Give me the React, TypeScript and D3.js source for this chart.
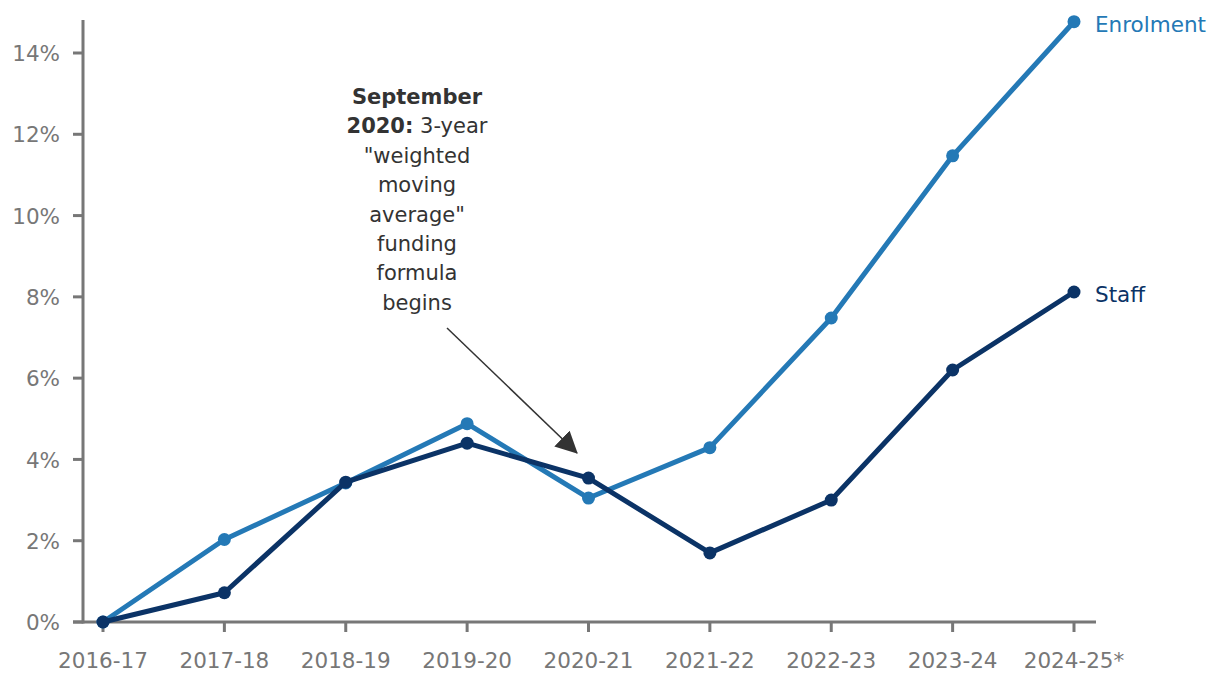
import React from "react";
import * as d3 from "d3";

const categories = ["2016-17", "2017-18", "2018-19", "2019-20", "2020-21", "2021-22", "2022-23", "2023-24", "2024-25*"];
const enrolment = [0, 2.03, 3.42, 4.88, 3.05, 4.29, 7.48, 11.47, 14.77];
const staff = [0, 0.72, 3.44, 4.4, 3.54, 1.7, 3.0, 6.2, 8.12];
const yTicks = [0, 2, 4, 6, 8, 10, 12, 14];
const annotationLines = [
  { bold: "September", rest: "" },
  { bold: "2020:", rest: " 3-year" },
  { bold: "", rest: "\"weighted" },
  { bold: "", rest: "moving" },
  { bold: "", rest: "average\"" },
  { bold: "", rest: "funding" },
  { bold: "", rest: "formula" },
  { bold: "", rest: "begins" },
];

const W = 1220;
const H = 682;
const FONT = "'DejaVu Sans', sans-serif";
const AXIS = "#777777";
const C_ENR = "#2479b6";
const C_STAFF = "#0b3366";

export default function App() {
  const x = d3.scalePoint<string>().domain(categories).range([103, 1074]);
  const y = d3.scaleLinear().domain([0, 14]).range([622, 53]);
  const line = d3
    .line<number>()
    .x((_, i) => x(categories[i])!)
    .y((d) => y(d));

  const series = [
    { name: "Enrolment", data: enrolment, color: C_ENR },
    { name: "Staff", data: staff, color: C_STAFF },
  ];

  const ax0 = 83;
  const axEnd = 1096;

  return (
    <svg width={W} height={H} style={{ position: "absolute", left: 0, top: 0, background: "#fff" }}>
      <defs>
        <marker id="arrow" viewBox="0 0 20 20" refX="19" refY="10" markerWidth="22" markerHeight="22" orient="auto" markerUnits="userSpaceOnUse">
          <path d="M0,0 L20,10 L0,20 z" fill="#333" />
        </marker>
      </defs>
      {/* y axis */}
      <line x1={ax0} x2={ax0} y1={20} y2={y(0) + 1.5} stroke={AXIS} strokeWidth={3} />
      {yTicks.map((t) => (
        <g key={t}>
          <line x1={ax0 - 10} x2={ax0} y1={y(t)} y2={y(t)} stroke={AXIS} strokeWidth={3} />
          <text x={60} y={y(t)} dy="0.38em" textAnchor="end" fontSize={21.5} fill={AXIS} fontFamily={FONT}>
            {t}%
          </text>
        </g>
      ))}
      {/* x axis */}
      <line x1={ax0 - 10} x2={axEnd} y1={y(0)} y2={y(0)} stroke={AXIS} strokeWidth={3} />
      {categories.map((c) => (
        <g key={c}>
          <line x1={x(c)!} x2={x(c)!} y1={y(0)} y2={y(0) + 10} stroke={AXIS} strokeWidth={3} />
          <text x={x(c)!} y={660} dy="0.38em" textAnchor="middle" fontSize={21.5} fill={AXIS} fontFamily={FONT}>
            {c}
          </text>
        </g>
      ))}
      {/* series */}
      {series.map((s) => (
        <g key={s.name}>
          <path d={line(s.data)!} fill="none" stroke={s.color} strokeWidth={5} strokeLinejoin="round" />
          {s.data.map((v, i) => (
            <circle key={i} cx={x(categories[i])!} cy={y(v)} r={6.5} fill={s.color} />
          ))}
          <text
            x={x(categories[categories.length - 1])! + 21}
            y={y(s.data[s.data.length - 1]) + 2}
            dy="0.38em"
            fontSize={21.5}
            fill={s.color}
            fontFamily={FONT}
          >
            {s.name}
          </text>
        </g>
      ))}
      {/* annotation */}
      <text textAnchor="middle" fontSize={21} fill="#333" fontFamily={FONT}>
        {annotationLines.map((l, i) => (
          <tspan key={i} x={417} y={96 + i * 29.4} dy="0.38em">
            {l.bold && <tspan fontWeight="bold">{l.bold}</tspan>}
            {l.rest}
          </tspan>
        ))}
      </text>
      <line x1={447} y1={328} x2={577} y2={453} stroke="#333" strokeWidth={1.5} markerEnd="url(#arrow)" />
    </svg>
  );
}
